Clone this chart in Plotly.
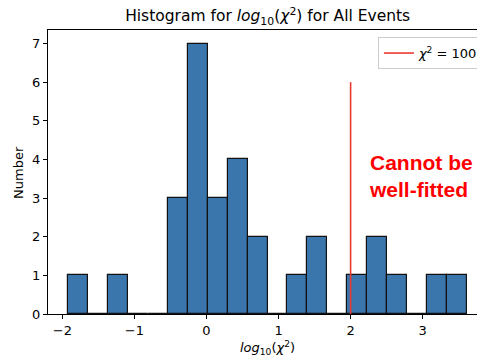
import plotly.graph_objects as go

# Histogram of log10(chi^2): 20 equal-width bins
bin_start = -1.922
bin_width = 0.2769
counts = [1, 0, 1, 0, 0, 3, 7, 3, 4, 2, 0, 1, 2, 0, 1, 2, 1, 0, 1, 1]

# Threshold line at chi^2 = 100
threshold_x = 2.0
threshold_top = 6

x_ticks = [-2, -1, 0, 1, 2, 3]
y_ticks = [0, 1, 2, 3, 4, 5, 6, 7]

centers = [bin_start + bin_width * (i + 0.5) for i in range(len(counts))]

BAR_COLOR = "#3a76ac"
RED = "#e8392f"
FONT = "DejaVu Sans"
TICK_SIZE = 13

fig = go.Figure()
fig.add_trace(go.Bar(
    x=centers, y=counts, width=bin_width,
    marker=dict(color=BAR_COLOR, line=dict(color="#111111", width=1.2)),
    showlegend=False,
))
fig.add_trace(go.Scatter(
    x=[threshold_x, threshold_x], y=[0, threshold_top],
    mode="lines", line=dict(color=RED, width=1.6),
    name="<i>χ</i><sup>2</sup> = 100", showlegend=True,
))

fig.add_annotation(
    x=2.228, y=3.56, xref="x", yref="y",
    text="<b>Cannot be<br>well-fitted</b>", showarrow=False,
    xanchor="left", yanchor="middle", align="left",
    font=dict(family="Liberation Sans", size=21, color="#ff0000"),
)
fig.add_annotation(
    x=0.512, y=-0.12, xref="paper", yref="paper",
    text="<i>log</i><sub>10</sub>(<i>χ</i><sup>2</sup>)", showarrow=False,
    xanchor="center", yanchor="middle",
    font=dict(family=FONT, size=TICK_SIZE, color="black"),
)
fig.add_annotation(
    x=-0.07, y=0.5, xref="paper", yref="paper",
    text="Number", showarrow=False, textangle=-90,
    xanchor="center", yanchor="middle",
    font=dict(family=FONT, size=TICK_SIZE, color="black"),
)

fig.update_layout(
    width=477, height=358,
    margin=dict(l=48, r=0, t=30, b=44, autoexpand=False),
    paper_bgcolor="white", plot_bgcolor="white",
    bargap=0,
    font=dict(family=FONT, size=TICK_SIZE, color="black"),
    title=dict(
        text="Histogram for <i>log</i><sub>10</sub>(<i>χ</i><sup>2</sup>) for All Events",
        x=0.512, xref="paper", xanchor="center",
        y=1 - 16 / 358, yref="container", yanchor="middle",
        font=dict(family=FONT, size=15.5, color="black"),
    ),
    legend=dict(
        x=0.769, y=0.975, xanchor="left", yanchor="top",
        bgcolor="white", bordercolor="#cccccc", borderwidth=1,
        font=dict(family=FONT, size=TICK_SIZE, color="black"),
    ),
    xaxis=dict(
        range=[-2.199, 3.754], tickvals=x_ticks,
        showgrid=False, zeroline=False,
        showline=True, linecolor="black", linewidth=1, mirror=True,
        ticks="outside", ticklen=4, tickcolor="black",
        tickfont=dict(size=TICK_SIZE),
    ),
    yaxis=dict(
        range=[0, 7.35], tickvals=y_ticks,
        showgrid=False, zeroline=False,
        showline=True, linecolor="black", linewidth=1,
        ticks="outside", ticklen=4, tickcolor="black",
        tickfont=dict(size=TICK_SIZE),
    ),
)

fig.write_html("out.html")
